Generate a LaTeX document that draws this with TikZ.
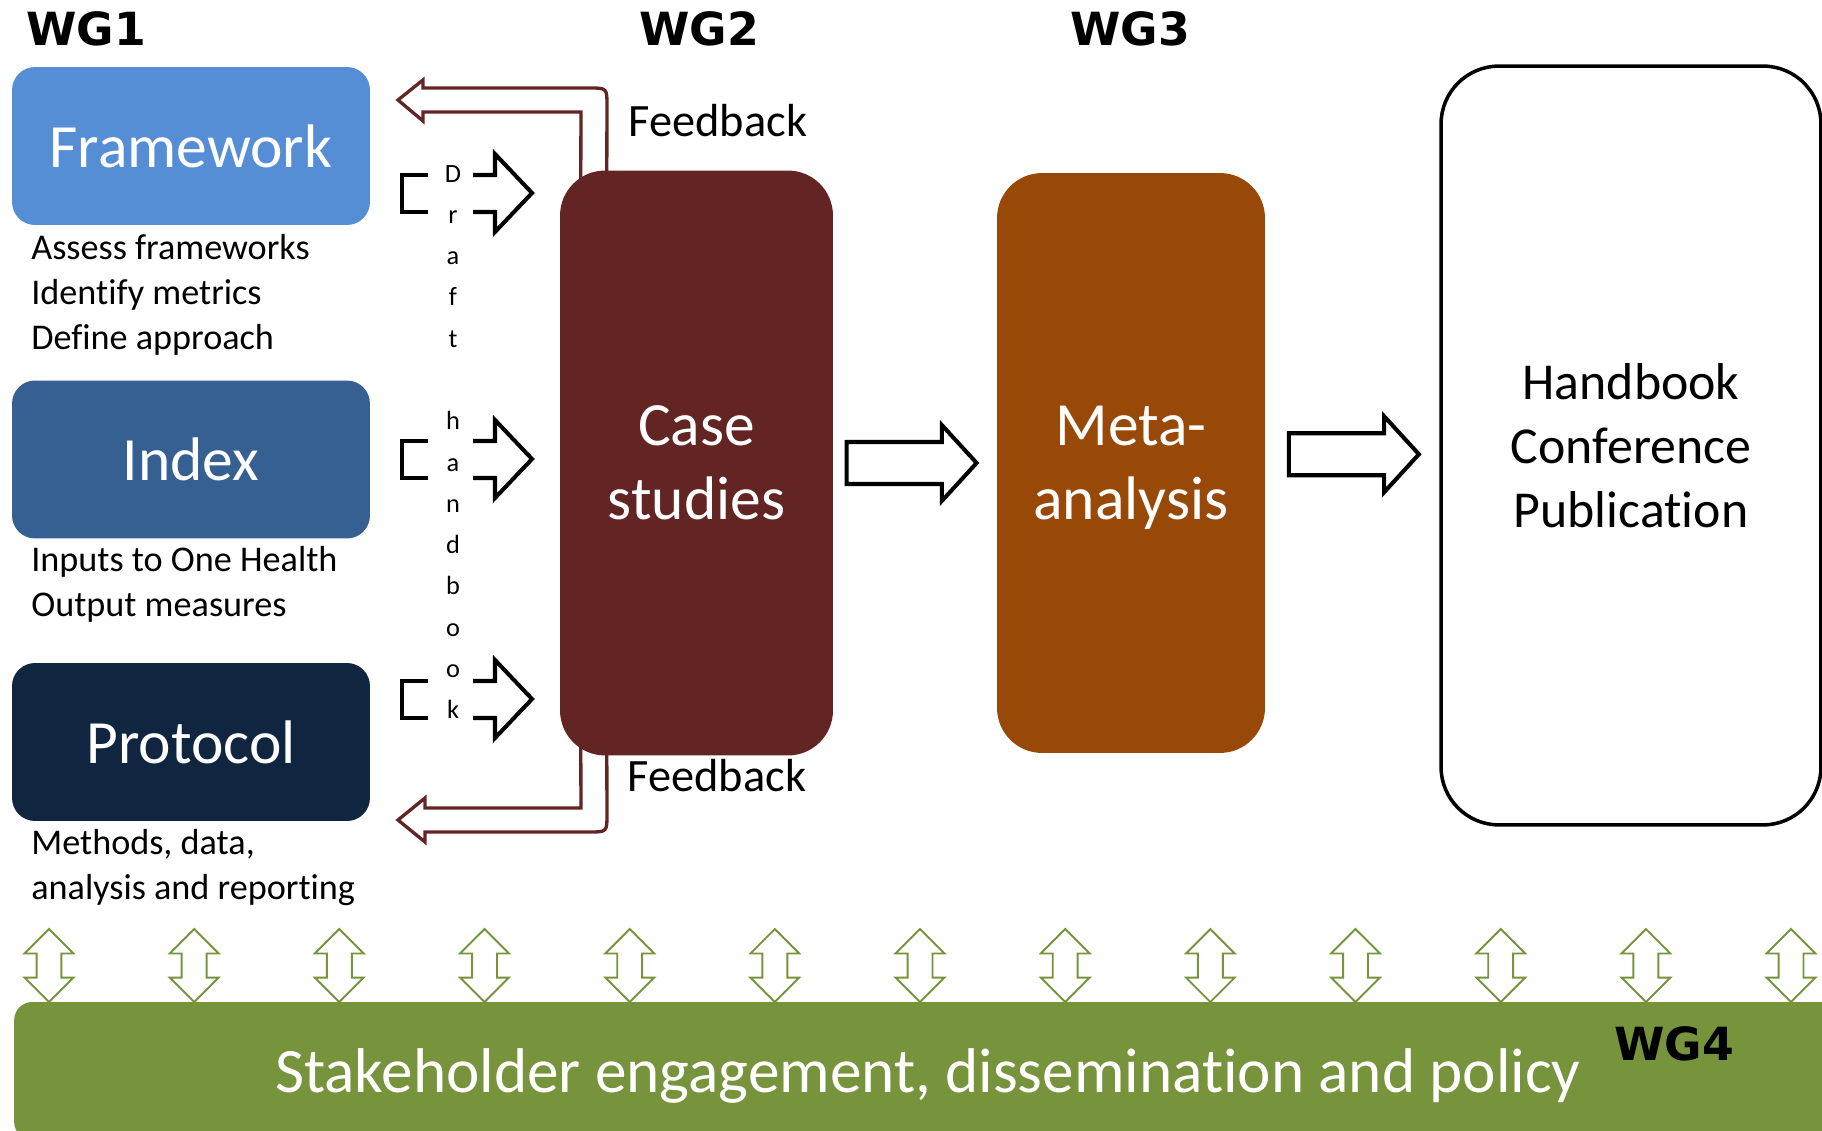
\documentclass[tikz,border=0pt]{standalone}
\usepackage{fontspec}
\setmainfont{Carlito}[Ligatures={NoCommon,NoRare,NoContextual}]
\newfontfamily\wgfont{DejaVu Sans}
\usetikzlibrary{positioning, shapes.arrows, calc, backgrounds}
\definecolor{fwblue}{RGB}{85,142,213}
\definecolor{idxblue}{RGB}{55,96,146}
\definecolor{protnavy}{RGB}{16,37,63}
\definecolor{casered}{RGB}{99,37,35}
\definecolor{metabrown}{RGB}{152,72,7}
\definecolor{wggreen}{RGB}{119,147,60}

\begin{document}
\begin{tikzpicture}[x=0.02cm, y=-0.02cm,
    wgbox/.style={rectangle, rounded corners=0.46cm, minimum width=7.16cm, minimum height=3.16cm, text=white, font=\fontsize{35}{42}\selectfont},
    note/.style={anchor=west, align=left, inner sep=0pt, font=\fontsize{20.6}{25.6}\selectfont},
    stage/.style={rectangle, rounded corners=0.9cm, text=white, align=center, font=\fontsize{35}{42}\selectfont},
    wglabel/.style={font=\wgfont\bfseries\fontsize{26}{30}\selectfont},
    bigarrow/.style={single arrow, draw=black, line width=2.3pt, fill=white, minimum height=2.6cm, inner xsep=0pt, inner ysep=0.38cm, single arrow head extend=0.34cm, single arrow tip angle=95},
    updown/.style={double arrow, rotate=90, draw=wggreen, line width=1.1pt, fill=white, minimum height=1.46cm, inner xsep=0pt, inner ysep=0.23cm, double arrow head extend=0.24cm, double arrow tip angle=90},
    draftline/.style={line width=2.3pt},
    feedback/.style={draw=casered, line width=1.9pt},
    fbtext/.style={font=\fontsize{26.4}{30}\selectfont}]
  \useasboundingbox (0,0) rectangle (1822,1131);

  \node[wglabel] (wg1) at (86,29) {WG1};
  \node[wglabel] (wg2) at (699,29) {WG2};
  \node[wglabel] (wg3) at (1130,29) {WG3};

  \node[wgbox, fill=fwblue] (frame) at (191,146) {Framework};
  \node[wgbox, fill=idxblue] (index) at (191,459.5) {Index};
  \node[wgbox, fill=protnavy] (protocol) at (191,742) {Protocol};
  \node[note] (framenote) at (31,295) {Assess frameworks\\Identify metrics\\Define approach};
  \node[note] (indexnote) at (31,584.5) {Inputs to One Health\\Output measures};
  \node[note] (protnote) at (31,867.5) {Methods, data,\\analysis and reporting};

  \node[align=center, inner sep=0pt, font=\fontsize{15}{23.5}\selectfont] (draft) at (453,442)
    {D\\r\\a\\f\\t\\[23.5pt]h\\a\\n\\d\\b\\o\\o\\k};
  \foreach \y in {193,459,699} {
    \draw[draftline] (428,\y-18) -- (402,\y-18) -- (402,\y+19) -- (428,\y+19);
    \draw[draftline] (473,\y-18) -- (495,\y-18) -- (495,\y-39) -- (532,\y) -- (495,\y+39) -- (495,\y+19) -- (473,\y+19);
  }

  \node[stage, fill=casered, minimum width=5.46cm, minimum height=11.7cm] (case) at (696.5,463) {Case\\studies};
  \node[stage, fill=metabrown, minimum width=5.36cm, minimum height=11.6cm] (meta) at (1131,463) {Meta-\\anal\smash{y}sis};
  \node[stage, draw=black, line width=2pt, text=black, rounded corners=1.16cm, minimum width=7.6cm, minimum height=15.18cm,
        font=\fontsize{29.5}{36.5}\selectfont] (hbook) at (1631,445.5) {Handbook\\Conference\\Publication};

  \node[bigarrow, xshift=-0.26cm] (arr1) at ($(case.east)!0.5!(meta.west)$) {};
  \node[bigarrow, xshift=-0.16cm] (arr2) at ($(meta.east)!0.5!(hbook.west)$) {};

  \coordinate (fbtip1) at (398,100);
  \coordinate (fbtip2) at (398,820);
  \begin{scope}[on background layer]
    \draw[feedback] ($(case.north west)+(47,30)$) -- (607,106) .. controls (607,88) .. (589,88) -- (423,88) -- (423,80)
      -- (fbtip1) -- (423,121) -- (423,112) -- (581,112) -- ($(case.north west)+(21,30)$);
    \draw[feedback] ($(case.south west)+(21,-30)$) -- (581,808) -- (425,808) -- (425,798) -- (fbtip2) -- (425,842)
      -- (425,832) -- (589,832) .. controls (607,832) .. (607,814) -- ($(case.south west)+(47,-30)$);
  \end{scope}
  \node[fbtext] (fbt1) at (718,121) {Feedback};
  \node[fbtext] (fbt2) at (717,776) {Feedback};

  \node[rectangle, rounded corners=0.36cm, fill=wggreen, minimum width=36.56cm, minimum height=2.76cm, text=white, text depth=0pt,
        font=\fontsize{36}{40}\selectfont] (bar) at (928,1071) {Stakeholder engagement, dissemination and policy};
  \node[wglabel] (wg4) at (1674,1044) {WG4};
  \foreach \x [count=\i] in {49,194.17,...,1792}
    \node[updown] (ud\i) at (\x,965.5) {};
\end{tikzpicture}
\end{document}
